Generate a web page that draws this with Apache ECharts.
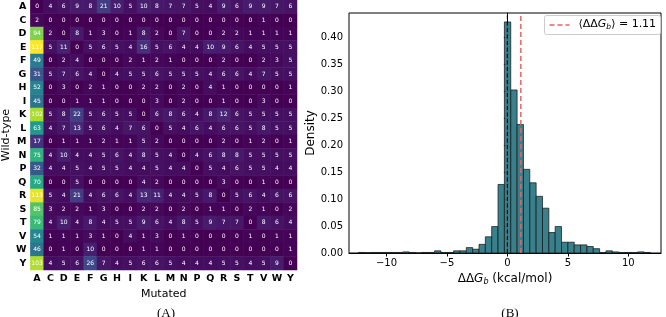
<!DOCTYPE html>
<html>
<head>
<meta charset="utf-8">
<script src="https://cdn.jsdelivr.net/npm/echarts@6/dist/echarts.min.js"></script>
<style>
  html, body { margin: 0; padding: 0; background: #fff; }
  #chart { width: 666px; height: 317px; }
</style>
</head>
<body>
<div id="chart"></div>
<script>
  // amino acids, wild-type rows and mutated columns
  const aminoAcids = ['A', 'C', 'D', 'E', 'F', 'G', 'H', 'I', 'K', 'L', 'M', 'N', 'P', 'Q', 'R', 'S', 'T', 'V', 'W', 'Y']

  // counts, one row per wild-type residue
  const countRows = [
    [0, 4, 6, 9, 8, 21, 10, 5, 10, 8, 7, 7, 5, 4, 9, 6, 9, 9, 7, 6],
    [2, 0, 0, 0, 0, 0, 0, 0, 0, 0, 0, 0, 0, 0, 0, 0, 0, 1, 0, 0],
    [94, 2, 0, 8, 1, 3, 0, 1, 8, 2, 0, 7, 0, 0, 2, 2, 1, 1, 1, 1],
    [117, 5, 11, 0, 5, 6, 5, 4, 16, 5, 6, 4, 4, 10, 9, 6, 4, 5, 5, 5],
    [49, 0, 2, 4, 0, 0, 0, 2, 1, 2, 1, 0, 0, 0, 2, 0, 0, 2, 3, 5],
    [31, 5, 7, 6, 4, 0, 4, 5, 5, 6, 5, 5, 5, 4, 6, 6, 4, 7, 5, 5],
    [52, 0, 3, 0, 2, 1, 0, 0, 2, 2, 0, 2, 0, 4, 1, 0, 0, 0, 0, 1],
    [45, 0, 0, 1, 1, 1, 0, 0, 0, 3, 0, 2, 0, 0, 1, 0, 0, 3, 0, 0],
    [102, 5, 8, 22, 5, 6, 5, 5, 0, 6, 8, 6, 4, 8, 12, 6, 5, 5, 5, 5],
    [63, 4, 7, 13, 5, 6, 4, 7, 6, 0, 5, 4, 6, 4, 6, 6, 5, 8, 5, 5],
    [17, 0, 1, 1, 1, 2, 1, 1, 5, 2, 0, 0, 0, 0, 2, 0, 1, 2, 0, 1],
    [75, 4, 10, 4, 4, 5, 6, 4, 8, 5, 4, 0, 4, 6, 8, 8, 5, 5, 5, 5],
    [32, 4, 4, 5, 4, 5, 5, 4, 4, 5, 4, 4, 0, 5, 4, 6, 5, 5, 4, 4],
    [70, 0, 0, 5, 0, 0, 0, 0, 4, 2, 0, 0, 0, 0, 3, 0, 0, 1, 0, 0],
    [113, 5, 4, 21, 4, 6, 6, 4, 13, 11, 4, 4, 5, 8, 0, 5, 6, 4, 6, 6],
    [85, 3, 2, 2, 1, 3, 0, 0, 2, 2, 0, 2, 0, 1, 1, 0, 2, 1, 0, 2],
    [79, 4, 10, 4, 8, 4, 5, 5, 9, 6, 4, 8, 5, 9, 7, 7, 0, 8, 6, 4],
    [54, 1, 1, 1, 3, 1, 0, 4, 1, 3, 0, 1, 0, 0, 0, 0, 1, 0, 1, 1],
    [46, 0, 1, 0, 10, 0, 0, 0, 1, 1, 0, 0, 0, 0, 0, 0, 0, 0, 0, 1],
    [103, 4, 5, 6, 26, 7, 4, 5, 6, 6, 5, 4, 4, 4, 5, 5, 4, 5, 9, 0]
  ]

  // histogram of ddG_b (kcal/mol)
  const binFirstEdge = -12.325
  const binWidth = 0.525
  const density = [
    0.001, 0.0005, 0.001, 0.001, 0.001, 0.001, 0.001, 0.002, 0.001, 0.0,
    0.001, 0.001, 0.004, 0.001, 0.001, 0.004, 0.004, 0.010, 0.007, 0.016,
    0.030, 0.049, 0.127, 0.428, 0.302, 0.238, 0.155, 0.130, 0.105, 0.083,
    0.038, 0.049, 0.020, 0.020, 0.015, 0.015, 0.012, 0.008, 0.001, 0.004,
    0.002, 0.001, 0.001, 0.001, 0.002, 0.001
  ]
  const meanDdg = 1.11
  const densityTicks = [0, 0.05, 0.1, 0.15, 0.2, 0.25, 0.3, 0.35, 0.4]
  const ddgTicks = [-10, -5, 0, 5, 10]

  const viridis = ['#440154', '#482878', '#3e4989', '#31688e', '#26828e', '#1f9e89', '#35b779', '#6ece58', '#b5de2b', '#fde725']

  const heatData = []
  countRows.forEach((row, i) => {
    row.forEach((v, j) => heatData.push([j, i, v]))
  })

  const histData = density.map((d, k) => [binFirstEdge + k * binWidth, binFirstEdge + (k + 1) * binWidth, d])

  const yTop = 0.4446
  const sansFont = 'DejaVu Sans'

  const option = {
    animation: false,
    backgroundColor: '#fff',
    title: [
      { text: '(A)', left: 161, top: 302, textAlign: 'center', textStyle: { fontFamily: 'Liberation Serif', fontSize: 13, fontWeight: 'normal', color: '#000' } },
      { text: '(B)', left: 505, top: 302, textAlign: 'center', textStyle: { fontFamily: 'Liberation Serif', fontSize: 13, fontWeight: 'normal', color: '#000' } }
    ],
    visualMap: {
      show: false,
      min: 0,
      max: 117,
      seriesIndex: 0,
      dimension: 2,
      inRange: { color: viridis }
    },
    grid: [
      { left: 25, top: 0, width: 272, height: 270 },
      { left: 349, top: 13, right: 5, height: 240, show: true, borderColor: '#000', borderWidth: 1 }
    ],
    xAxis: [
      {
        type: 'category',
        gridIndex: 0,
        data: aminoAcids,
        name: 'Mutated',
        nameLocation: 'middle',
        nameGap: 13,
        nameTextStyle: { fontFamily: sansFont, fontSize: 11, color: '#000' },
        axisLine: { show: false },
        axisTick: { alignWithLabel: true, length: 3, lineStyle: { color: '#000' } },
        axisLabel: { fontFamily: sansFont, fontSize: 9.5, fontWeight: 'bold', color: '#000', margin: 4, interval: 0 },
        splitLine: { show: false }
      },
      {
        type: 'value',
        gridIndex: 1,
        min: -13.1,
        max: 12.7,
        name: '{n|ΔΔ}{g|G}{s|b}{n| (kcal/mol)}',
        nameLocation: 'middle',
        nameGap: 17,
        nameTextStyle: {
          color: '#000',
          rich: {
            n: { fontFamily: sansFont, fontSize: 12, color: '#000', lineHeight: 14 },
            g: { fontFamily: sansFont, fontSize: 12, fontStyle: 'italic', color: '#000', lineHeight: 14 },
            s: { fontFamily: sansFont, fontSize: 8, fontStyle: 'italic', color: '#000', lineHeight: 8, verticalAlign: 'bottom', padding: [4, 0, 0, 0] }
          }
        },
        axisLine: { show: true, onZero: false, lineStyle: { color: '#000' } },
        axisTick: { show: true, length: 3.5, inside: false, lineStyle: { color: '#000' } },
        axisLabel: {
          fontFamily: sansFont, fontSize: 10, color: '#000', margin: 5,
          showMinLabel: false, showMaxLabel: false,
          formatter: (v) => ddgTicks.includes(v) ? String(v).replace('-', '\u2212') : ''
        },
        splitLine: { show: false }
      }
    ],
    yAxis: [
      {
        type: 'category',
        gridIndex: 0,
        data: aminoAcids,
        inverse: true,
        name: 'Wild-type',
        nameLocation: 'middle',
        nameRotate: 90,
        nameGap: 15,
        nameTextStyle: { fontFamily: sansFont, fontSize: 11, color: '#000' },
        axisLine: { show: false },
        axisTick: { alignWithLabel: true, length: 3, lineStyle: { color: '#000' } },
        axisLabel: { fontFamily: sansFont, fontSize: 9.5, fontWeight: 'bold', color: '#000', margin: 4, interval: 0 },
        splitLine: { show: false }
      },
      {
        type: 'value',
        gridIndex: 1,
        min: 0,
        max: yTop,
        interval: 0.05,
        name: 'Density',
        nameLocation: 'middle',
        nameRotate: 90,
        nameGap: 28,
        nameTextStyle: { fontFamily: sansFont, fontSize: 12, color: '#000' },
        axisLine: { show: true, lineStyle: { color: '#000' } },
        axisTick: { show: true, length: 3.5, lineStyle: { color: '#000' } },
        axisLabel: {
          fontFamily: sansFont, fontSize: 10, color: '#000', margin: 6,
          showMaxLabel: false,
          formatter: (v) => densityTicks.some(t => Math.abs(t - v) < 1e-9) ? v.toFixed(2) : ''
        },
        splitLine: { show: false }
      }
    ],
    series: [
      {
        type: 'heatmap',
        xAxisIndex: 0,
        yAxisIndex: 0,
        data: heatData,
        label: {
          show: true,
          color: '#fff',
          fontFamily: sansFont,
          fontSize: 6,
          formatter: (p) => p.value[2]
        },
        itemStyle: { borderWidth: 0 }
      },
      {
        type: 'custom',
        xAxisIndex: 1,
        yAxisIndex: 1,
        data: histData,
        encode: { x: [0, 1], y: 2 },
        renderItem: (params, api) => {
          const p0 = api.coord([api.value(0), api.value(2)])
          const p1 = api.coord([api.value(1), 0])
          return {
            type: 'rect',
            shape: { x: p0[0], y: p0[1], width: p1[0] - p0[0], height: p1[1] - p0[1] },
            style: { fill: '#2e7987', stroke: '#1a1a1a', lineWidth: 0.8, opacity: 0.95 }
          }
        }
      },
      {
        type: 'line',
        xAxisIndex: 1,
        yAxisIndex: 1,
        data: [[0, 0], [0, yTop]],
        symbol: 'none',
        lineStyle: { color: '#000', width: 1.2, type: [4, 2.5] },
        z: 5
      },
      {
        type: 'line',
        xAxisIndex: 1,
        yAxisIndex: 1,
        data: [[meanDdg, 0], [meanDdg, yTop]],
        symbol: 'none',
        lineStyle: { color: '#e06666', width: 1.5, type: [5, 3] },
        z: 5
      }
    ],
    graphic: [
      {
        type: 'group',
        left: 544,
        top: 15,
        z: 10,
        children: [
          { type: 'rect', shape: { x: 0, y: 0, width: 116, height: 19, r: 2 }, style: { fill: 'rgba(255,255,255,0.85)', stroke: '#ccc', lineWidth: 1 } },
          { type: 'line', shape: { x1: 5, y1: 9.5, x2: 25, y2: 9.5 }, style: { stroke: '#e06666', lineWidth: 1.5, lineDash: [5, 3] } },
          {
            type: 'text',
            x: 34,
            y: 2,
            style: {
              text: '{n|\u27e8ΔΔ}{g|G}{s|b}{n|\u27e9 = 1.11}',
              rich: {
                n: { fontFamily: sansFont, fontSize: 11, fill: '#000', lineHeight: 14 },
                g: { fontFamily: sansFont, fontSize: 11, fontStyle: 'italic', fill: '#000', lineHeight: 14 },
                s: { fontFamily: sansFont, fontSize: 7.5, fontStyle: 'italic', fill: '#000', lineHeight: 8, verticalAlign: 'bottom', padding: [4, 0, 0, 0] }
              }
            }
          }
        ]
      }
    ]
  }

  const chart = echarts.init(document.getElementById('chart'))
  chart.setOption(option)
  window.onresize = () => {
    chart.resize()
  }
</script>
</body>
</html>
